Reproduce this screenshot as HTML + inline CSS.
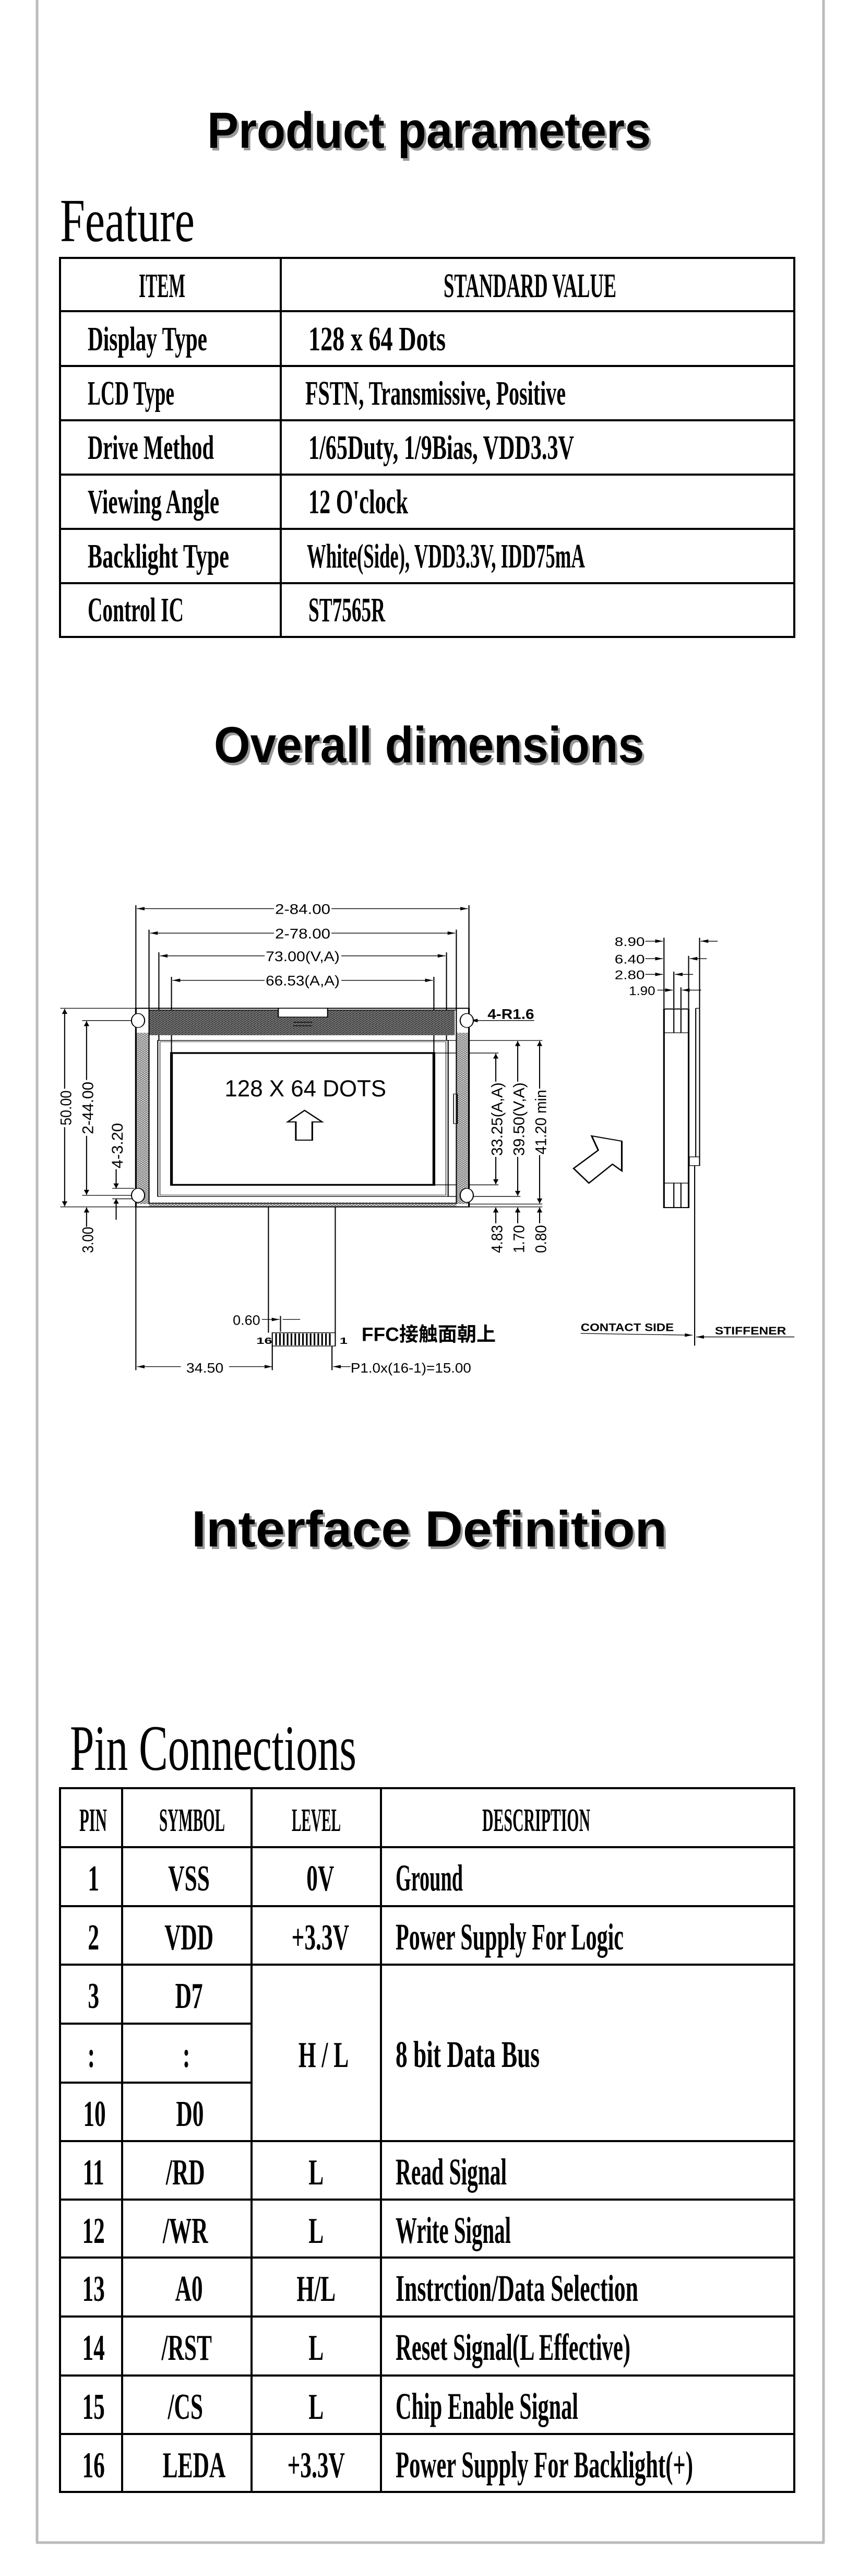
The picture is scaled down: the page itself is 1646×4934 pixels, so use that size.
<!DOCTYPE html>
<html><head><meta charset="utf-8"><style>
html,body{margin:0;padding:0;background:#fff;}
svg{display:block;}
.t{font-family:"Liberation Serif","Noto Serif CJK SC",serif;font-weight:bold;fill:#000;}
.h{font-family:"Liberation Sans","Noto Sans CJK SC",sans-serif;font-weight:bold;}
.d{font-family:"Liberation Sans","Noto Sans CJK SC",sans-serif;fill:#000;}
</style></head><body>
<svg width="1646" height="4934" viewBox="0 0 1646 4934" xmlns="http://www.w3.org/2000/svg">
<defs>
<marker id="a" viewBox="0 0 14 10" refX="14" refY="5" markerWidth="14" markerHeight="10" markerUnits="userSpaceOnUse" orient="auto-start-reverse"><path d="M0,0 L14,5 L0,10 z" fill="#000"/></marker>
<pattern id="diag" width="6" height="6" patternUnits="userSpaceOnUse"><rect width="6" height="6" fill="#777"/><path d="M0,6 L6,0" stroke="#222" stroke-width="1.5"/></pattern>
<pattern id="cross" width="6" height="6" patternUnits="userSpaceOnUse"><rect width="6" height="6" fill="#ddd"/><path d="M0,0 L6,6 M0,6 L6,0" stroke="#555" stroke-width="1"/></pattern>
</defs>
<rect width="1646" height="4934" fill="#fff"/>
<line x1="71" y1="0" x2="71" y2="4870" stroke="#bbb" stroke-width="5"/>
<line x1="1578" y1="0" x2="1578" y2="4870" stroke="#bbb" stroke-width="5"/>
<line x1="69" y1="4870" x2="1580" y2="4870" stroke="#bbb" stroke-width="5"/>

<text class="h" x="401" y="288" font-size="97" fill="#999" textLength="850" lengthAdjust="spacingAndGlyphs">Product parameters</text>
<text class="h" x="397" y="283" font-size="97" fill="#000" textLength="850" lengthAdjust="spacingAndGlyphs">Product parameters</text>
<text class="h" x="414" y="1465" font-size="97" fill="#999" textLength="824" lengthAdjust="spacingAndGlyphs">Overall dimensions</text>
<text class="h" x="410" y="1460" font-size="97" fill="#000" textLength="824" lengthAdjust="spacingAndGlyphs">Overall dimensions</text>
<text class="h" x="371" y="2967" font-size="97" fill="#999" textLength="911" lengthAdjust="spacingAndGlyphs">Interface Definition</text>
<text class="h" x="367" y="2962" font-size="97" fill="#000" textLength="911" lengthAdjust="spacingAndGlyphs">Interface Definition</text>

<text x="115" y="462" font-family="Liberation Serif,serif" font-size="118" textLength="258" lengthAdjust="spacingAndGlyphs">Feature</text>
<g stroke="#000" stroke-width="4" fill="none">
<rect x="115" y="494" width="1407" height="726"/>
<line x1="538" y1="494" x2="538" y2="1220"/>
<line x1="115" y1="596" x2="1522" y2="596"/>
<line x1="115" y1="701" x2="1522" y2="701"/>
<line x1="115" y1="805" x2="1522" y2="805"/>
<line x1="115" y1="909" x2="1522" y2="909"/>
<line x1="115" y1="1013" x2="1522" y2="1013"/>
<line x1="115" y1="1117" x2="1522" y2="1117"/>
</g>
<g class="t" font-size="66">
<text x="266" y="569" textLength="89" lengthAdjust="spacingAndGlyphs">ITEM</text>
<text x="850" y="569" textLength="331" lengthAdjust="spacingAndGlyphs">STANDARD  VALUE</text>
<text x="168" y="671" textLength="229" lengthAdjust="spacingAndGlyphs">Display Type</text>
<text x="591" y="671" textLength="263" lengthAdjust="spacingAndGlyphs">128 x 64 Dots</text>
<text x="168" y="775" textLength="166" lengthAdjust="spacingAndGlyphs">LCD Type</text>
<text x="585" y="775" textLength="499" lengthAdjust="spacingAndGlyphs">FSTN, Transmissive, Positive</text>
<text x="168" y="879" textLength="242" lengthAdjust="spacingAndGlyphs">Drive Method</text>
<text x="591" y="879" textLength="509" lengthAdjust="spacingAndGlyphs">1/65Duty, 1/9Bias, VDD3.3V</text>
<text x="168" y="983" textLength="252" lengthAdjust="spacingAndGlyphs">Viewing Angle</text>
<text x="591" y="983" textLength="191" lengthAdjust="spacingAndGlyphs">12 O'clock</text>
<text x="168" y="1087" textLength="271" lengthAdjust="spacingAndGlyphs">Backlight Type</text>
<text x="588" y="1087" textLength="533" lengthAdjust="spacingAndGlyphs">White(Side), VDD3.3V, IDD75mA</text>
<text x="168" y="1190" textLength="184" lengthAdjust="spacingAndGlyphs">Control IC</text>
<text x="591" y="1190" textLength="147" lengthAdjust="spacingAndGlyphs">ST7565R</text>
</g>

<svg x="0" y="1650" width="1646" height="1050" viewBox="0 0 1568 1568" preserveAspectRatio="none">
<g fill="none" stroke="#000" stroke-width="2">
<line x1="250" y1="135" x2="854" y2="135" marker-start="url(#a)" marker-end="url(#a)"/>
<line x1="274" y1="205" x2="831" y2="205" marker-start="url(#a)" marker-end="url(#a)"/>
<line x1="292" y1="270" x2="813" y2="270" marker-start="url(#a)" marker-end="url(#a)"/>
<line x1="315" y1="340" x2="790" y2="340" marker-start="url(#a)" marker-end="url(#a)"/>
<path d="M248,125V420 M856,125V420 M272,195V425 M833,195V425 M290,260V512 M815,260V512 M313,330V548 M792,330V548"/>
<line x1="118" y1="422" x2="118" y2="986" marker-start="url(#a)" marker-end="url(#a)"/>
<line x1="158" y1="457" x2="158" y2="953" marker-start="url(#a)" marker-end="url(#a)"/>
<path d="M110,420H248 M110,988H248 M150,455H245 M150,955H245 M205,935H245 M205,965H245"/>
<line x1="212" y1="880" x2="212" y2="935" marker-end="url(#a)"/>
<line x1="212" y1="1025" x2="212" y2="965" marker-end="url(#a)"/>
<line x1="158" y1="1045" x2="158" y2="990" marker-end="url(#a)"/>
<line x1="905" y1="550" x2="905" y2="923" marker-start="url(#a)" marker-end="url(#a)"/>
<line x1="945" y1="514" x2="945" y2="956" marker-start="url(#a)" marker-end="url(#a)"/>
<line x1="985" y1="514" x2="985" y2="978" marker-start="url(#a)" marker-end="url(#a)"/>
<path d="M792,548H910 M792,925H910 M818,512H990 M818,958H950 M856,980H990 M856,988H990"/>
<line x1="905" y1="1035" x2="905" y2="990" marker-end="url(#a)"/>
<line x1="945" y1="1035" x2="945" y2="990" marker-end="url(#a)"/>
<line x1="985" y1="1035" x2="985" y2="990" marker-end="url(#a)"/>
<line x1="975" y1="455" x2="858" y2="455" marker-end="url(#a)"/>
</g>
<rect x="248" y="490" width="24" height="490" fill="url(#cross)"/>
<rect x="833" y="490" width="23" height="490" fill="url(#cross)"/>
<rect x="272" y="975" width="561" height="13" fill="url(#cross)"/>
<rect x="272" y="425" width="558" height="72" fill="url(#diag)"/>
<g fill="none" stroke="#000">
<rect x="248" y="420" width="608" height="568" stroke-width="3"/>
<rect x="272" y="425" width="561" height="553" stroke-width="2"/>
<rect x="288" y="512" width="530" height="446" stroke-width="2"/>
<rect x="292" y="516" width="522" height="438" stroke-width="1"/>
<rect x="313" y="548" width="479" height="377" stroke-width="5"/>
<rect x="828" y="665" width="7" height="85" stroke-width="1.5"/>
</g>
<rect x="508" y="420" width="90" height="25" fill="#fff" stroke="#000" stroke-width="2"/>
<path d="M535,460H570 M535,470H570" stroke="#000" stroke-width="2"/>
<g fill="#fff" stroke="#000" stroke-width="2">
<ellipse cx="252" cy="455" rx="12" ry="20"/>
<ellipse cx="252" cy="955" rx="12" ry="20"/>
<ellipse cx="852" cy="455" rx="12" ry="20"/>
<ellipse cx="852" cy="955" rx="12" ry="20"/>
</g>
<text class="d" x="410" y="672" font-family="Liberation Serif,serif" font-size="66" textLength="295" lengthAdjust="spacingAndGlyphs">128 X 64 DOTS</text>
<polygon points="525,745 556,712 588,745 570,745 570,797 540,797 540,745" fill="none" stroke="#000" stroke-width="3"/>
<g stroke="#000" stroke-width="2" fill="none">
<path d="M490,988V1348 M612,988V1348 M248,988V1455 M497,1385V1455 M606,1385V1455 M512,1300V1345"/>
<line x1="250" y1="1445" x2="497" y2="1445" marker-start="url(#a)" marker-end="url(#a)"/>
<line x1="640" y1="1445" x2="608" y2="1445" marker-end="url(#a)"/>
<line x1="478" y1="1310" x2="510" y2="1310" marker-end="url(#a)"/>
<line x1="548" y1="1310" x2="516" y2="1310"/>
</g>
<rect x="497" y="1348" width="115" height="38" fill="#fff" stroke="#000" stroke-width="2"/>
<path d="M504,1350V1384 M511,1350V1384 M518,1350V1384 M525,1350V1384 M532,1350V1384 M539,1350V1384 M546,1350V1384 M553,1350V1384 M560,1350V1384 M567,1350V1384 M574,1350V1384 M581,1350V1384 M588,1350V1384 M595,1350V1384 M602,1350V1384" stroke="#000" stroke-width="3"/>
<g class="d">
<rect x="330" y="1425" width="88" height="40" fill="#fff"/>
<text x="340" y="1462" font-size="38" textLength="68" lengthAdjust="spacingAndGlyphs">34.50</text>
<text x="640" y="1462" font-size="38" textLength="220" lengthAdjust="spacingAndGlyphs">P1.0x(16-1)=15.00</text>
<text x="425" y="1325" font-size="38" textLength="50" lengthAdjust="spacingAndGlyphs">0.60</text>
<text x="468" y="1380" font-size="26" font-weight="bold">16</text>
<text x="620" y="1380" font-size="26" font-weight="bold">1</text>
<text x="660" y="1372" font-size="56" font-weight="bold" textLength="245" lengthAdjust="spacingAndGlyphs">FFC接触面朝上</text>
<text x="890" y="450" font-size="40" font-weight="bold" textLength="85" lengthAdjust="spacingAndGlyphs">4-R1.6</text>
</g>
<g class="d" font-size="40">
<rect x="500" y="115" width="105" height="40" fill="#fff"/>
<text x="502" y="150" textLength="101" lengthAdjust="spacingAndGlyphs">2-84.00</text>
<rect x="500" y="185" width="105" height="40" fill="#fff"/>
<text x="502" y="220" textLength="101" lengthAdjust="spacingAndGlyphs">2-78.00</text>
<rect x="483" y="250" width="140" height="40" fill="#fff"/>
<text x="485" y="285" textLength="135" lengthAdjust="spacingAndGlyphs">73.00(V,A)</text>
<rect x="483" y="320" width="140" height="40" fill="#fff"/>
<text x="485" y="355" textLength="135" lengthAdjust="spacingAndGlyphs">66.53(A,A)</text>
</g>
<g class="d" font-size="28">
<rect x="100" y="650" width="36" height="110" fill="#fff"/>
<text transform="translate(130,755) rotate(-90)" textLength="100" lengthAdjust="spacingAndGlyphs">50.00</text>
<rect x="140" y="625" width="36" height="160" fill="#fff"/>
<text transform="translate(170,780) rotate(-90)" textLength="150" lengthAdjust="spacingAndGlyphs">2-44.00</text>
<rect x="194" y="745" width="36" height="135" fill="#fff"/>
<text transform="translate(224,878) rotate(-90)" textLength="130" lengthAdjust="spacingAndGlyphs">4-3.20</text>
<text transform="translate(170,1120) rotate(-90)" textLength="75" lengthAdjust="spacingAndGlyphs">3.00</text>
<rect x="887" y="630" width="36" height="215" fill="#fff"/>
<text transform="translate(917,842) rotate(-90)" textLength="210" lengthAdjust="spacingAndGlyphs">33.25(A,A)</text>
<rect x="927" y="630" width="36" height="215" fill="#fff"/>
<text transform="translate(957,842) rotate(-90)" textLength="210" lengthAdjust="spacingAndGlyphs">39.50(V,A)</text>
<rect x="967" y="650" width="36" height="190" fill="#fff"/>
<text transform="translate(997,838) rotate(-90)" textLength="185" lengthAdjust="spacingAndGlyphs">41.20 min</text>
<text transform="translate(917,1120) rotate(-90)" textLength="80" lengthAdjust="spacingAndGlyphs">4.83</text>
<text transform="translate(957,1120) rotate(-90)" textLength="80" lengthAdjust="spacingAndGlyphs">1.70</text>
<text transform="translate(997,1120) rotate(-90)" textLength="80" lengthAdjust="spacingAndGlyphs">0.80</text>
</g>
<polygon points="1135,800 1135,885 1118,866 1075,920 1047,878 1092,826 1080,785" fill="#fff" stroke="#000" stroke-width="3"/>
<g stroke="#000" stroke-width="2" fill="none">
<rect x="1212" y="422" width="45" height="568" stroke-width="3"/>
<path d="M1230,422V490 M1243,422V490 M1230,920V990 M1243,920V990 M1212,490H1257 M1212,920H1257"/>
<path d="M1270,420V845 M1277,420V845 M1270,420H1277"/>
<rect x="1258" y="845" width="19" height="25"/>
<path d="M1268,870V1385"/>
<path d="M1212,218V420 M1230,315V420 M1243,360V420 M1257,270V420 M1277,218V420"/>
<line x1="1178" y1="228" x2="1210" y2="228" marker-end="url(#a)"/>
<line x1="1310" y1="228" x2="1279" y2="228" marker-end="url(#a)"/>
<line x1="1178" y1="278" x2="1210" y2="278" marker-end="url(#a)"/>
<line x1="1290" y1="278" x2="1259" y2="278" marker-end="url(#a)"/>
<line x1="1178" y1="323" x2="1210" y2="323" marker-end="url(#a)"/>
<line x1="1265" y1="323" x2="1232" y2="323" marker-end="url(#a)"/>
<line x1="1200" y1="368" x2="1228" y2="368" marker-end="url(#a)"/>
<line x1="1280" y1="368" x2="1245" y2="368" marker-end="url(#a)"/>
<line x1="1060" y1="1350" x2="1264" y2="1355" marker-end="url(#a)"/>
<line x1="1450" y1="1360" x2="1271" y2="1360" marker-end="url(#a)"/>
</g>
<g class="d" font-size="36">
<text x="1122" y="242" textLength="55" lengthAdjust="spacingAndGlyphs">8.90</text>
<text x="1122" y="292" textLength="55" lengthAdjust="spacingAndGlyphs">6.40</text>
<text x="1122" y="337" textLength="55" lengthAdjust="spacingAndGlyphs">2.80</text>
<text x="1148" y="382" textLength="48" lengthAdjust="spacingAndGlyphs">1.90</text>
<text x="1060" y="1343" font-size="32" font-weight="bold" textLength="170" lengthAdjust="spacingAndGlyphs">CONTACT SIDE</text>
<text x="1305" y="1353" font-size="32" font-weight="bold" textLength="130" lengthAdjust="spacingAndGlyphs">STIFFENER</text>
</g>
</svg>

<text x="134" y="3390" font-family="Liberation Serif,serif" font-size="124" textLength="549" lengthAdjust="spacingAndGlyphs">Pin Connections</text>
<g stroke="#000" stroke-width="4" fill="none">
<rect x="115" y="3425" width="1407" height="1348"/>
<path d="M234,3425V4773 M482,3425V4773 M730,3425V4773"/>
<path d="M115,3538H1522 M115,3651H1522 M115,3763H1522 M115,3876H482 M115,3989H482 M115,4101H1522 M115,4213H1522 M115,4324H1522 M115,4437H1522 M115,4550H1522 M115,4662H1522"/>
</g>
<g class="t" font-size="72">
<text x="152" y="3507" font-size="62" textLength="53" lengthAdjust="spacingAndGlyphs">PIN</text>
<text x="305" y="3507" font-size="62" textLength="126" lengthAdjust="spacingAndGlyphs">SYMBOL</text>
<text x="559" y="3507" font-size="62" textLength="94" lengthAdjust="spacingAndGlyphs">LEVEL</text>
<text x="924" y="3507" font-size="62" textLength="207" lengthAdjust="spacingAndGlyphs">DESCRIPTION</text>
<g text-anchor="middle" transform="scale(0.62,1)" font-size="70">
<text x="289" y="3621">1</text><text x="584" y="3621">VSS</text><text x="990" y="3621">0V</text>
<text x="289" y="3734">2</text><text x="584" y="3734">VDD</text><text x="990" y="3734">+3.3V</text>
<text x="289" y="3846">3</text><text x="584" y="3846">D7</text>
<text x="282" y="3959">:</text><text x="576" y="3959">:</text>
<text x="292" y="4072">10</text><text x="587" y="4072">D0</text>
<text x="1000" y="3959">H / L</text>
<text x="289" y="4184">11</text><text x="573" y="4184">/RD</text><text x="977" y="4184">L</text>
<text x="289" y="4296">12</text><text x="573" y="4296">/WR</text><text x="977" y="4296">L</text>
<text x="289" y="4407">13</text><text x="584" y="4407">A0</text><text x="977" y="4407">H/L</text>
<text x="289" y="4520">14</text><text x="577" y="4520">/RST</text><text x="977" y="4520">L</text>
<text x="289" y="4633">15</text><text x="573" y="4633">/CS</text><text x="977" y="4633">L</text>
<text x="289" y="4745">16</text><text x="600" y="4745">LEDA</text><text x="977" y="4745">+3.3V</text>
</g>
<text x="758" y="3621" textLength="129" lengthAdjust="spacingAndGlyphs">Ground</text>
<text x="758" y="3734" textLength="437" lengthAdjust="spacingAndGlyphs">Power Supply For Logic</text>
<text x="758" y="3959" textLength="276" lengthAdjust="spacingAndGlyphs">8 bit Data Bus</text>
<text x="758" y="4184" textLength="213" lengthAdjust="spacingAndGlyphs">Read Signal</text>
<text x="758" y="4296" textLength="221" lengthAdjust="spacingAndGlyphs">Write Signal</text>
<text x="758" y="4407" textLength="465" lengthAdjust="spacingAndGlyphs">Instrction/Data Selection</text>
<text x="758" y="4520" textLength="450" lengthAdjust="spacingAndGlyphs">Reset Signal(L Effective)</text>
<text x="758" y="4633" textLength="350" lengthAdjust="spacingAndGlyphs">Chip Enable Signal</text>
<text x="758" y="4745" textLength="570" lengthAdjust="spacingAndGlyphs">Power Supply For Backlight(+)</text>
</g>
</svg>
</body></html>
